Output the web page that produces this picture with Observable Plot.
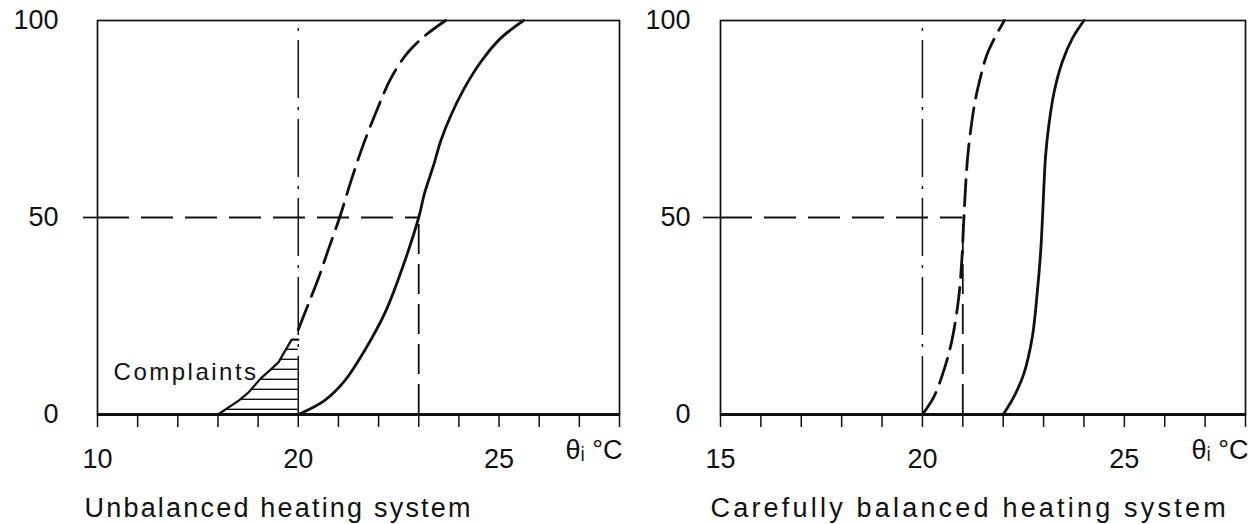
<!DOCTYPE html>
<html><head><meta charset="utf-8">
<script src="https://cdn.jsdelivr.net/npm/d3@7"></script>
<script src="https://cdn.jsdelivr.net/npm/@observablehq/plot@0.6"></script>
<style>
body{margin:0;background:#fff;}
#wrap{display:flex;width:1260px;height:524px;overflow:hidden;}
#wrap svg{display:block;}
</style></head><body><div id="wrap"></div>
<script>
// ---------- data ----------
const yTicks = [0, 50, 100];
// left panel: unbalanced heating system
const leftTicks = [10, 12, 14, 16, 18, 20, 21, 22, 23, 24, 25, 26, 27, 28];
const leftTickLabels = [10, 20, 25];
const leftSolidX = [20, 20.66, 21.16, 21.65, 22.15, 22.48, 23.0, 23.14, 23.38, 23.55, 23.8, 24.13, 24.54, 25.03, 25.61];
const leftSolidY = [0, 3.6, 8.6, 16.2, 25.6, 34, 50, 56, 63.6, 69.5, 75.9, 82.7, 89.4, 95.4, 100];
const leftDashedX = [20, 20.25, 20.5, 20.74, 21.03, 21.32, 21.62, 21.98, 22.3, 22.7, 23.14, 23.67];
const leftDashedY = [21.5, 28, 34.5, 41.6, 50, 59.5, 68.5, 77.8, 85.2, 91.5, 96, 100];
const complaintsX = [16, 17.05, 17.54, 18.12, 18.69, 19.02, 19.35, 19.67, 20];
const complaintsY = [0, 3.6, 5.7, 9.1, 11.7, 13.3, 16.2, 19, 19];
const leftRef = {x: 20, medianX: 23, median: 50};
// right panel: carefully balanced heating system
const rightTicks = [15, 16, 17, 18, 19, 20, 21, 22, 23, 24, 25, 26, 27, 28];
const rightTickLabels = [15, 20, 25];
const rightSolidX = [22, 22.26, 22.51, 22.72, 22.84, 22.93, 22.98, 23.05, 23.13, 23.26, 23.46, 23.71, 24.0];
const rightSolidY = [0, 4.4, 10.3, 19.6, 30.6, 41.6, 51.5, 65.7, 73.4, 81.8, 89.4, 95.4, 100];
const rightDashedX = [20, 20.28, 20.53, 20.73, 20.9, 20.98, 21.02, 21.08, 21.14, 21.3, 21.47, 21.59, 21.8, 22.03];
const rightDashedY = [0, 4.4, 11.2, 18.8, 29.8, 39.9, 48.4, 59.8, 67.4, 79.3, 86.9, 91.1, 95.8, 100];
const rightRef = {x: 20, medianX: 21, median: 50};
const axisLabel = "θᵢ °C";
const titles = ["Unbalanced heating system", "Carefully balanced heating system"];
const complaintsLabel = "Complaints";

const zip = (xs, ys) => xs.map((x, i) => ({x, y: ys[i]}));
const FONT = "'Liberation Sans', Arial, sans-serif";

function panel(o) {
  const marks = [];
  if (o.hatch) {
    marks.push(Plot.areaY(o.hatch, {x: "x", y: "y", fill: "url(#hatch)"}));
    marks.push(Plot.line(o.hatch, {x: "x", y: "y", stroke: "#111", strokeWidth: 2.2}));
    marks.push(Plot.text([complaintsLabel], {x: 10.8, y: 10.7, textAnchor: "start", fontSize: 24}));
  }
  marks.push(
    Plot.frame({stroke: "#111", strokeWidth: 1.7}),
    Plot.ruleX([o.ref.x], {y1: 0, y2: 100, stroke: "#111", strokeWidth: 1.5, strokeDasharray: "58,9,3,9"}),
    Plot.ruleY([o.ref.median], {x1: o.xDomain[0], x2: o.ref.medianX, stroke: "#111", strokeWidth: 1.8, strokeDasharray: "32,12"}),
    Plot.ruleX([o.ref.medianX], {y1: 0, y2: o.ref.median, stroke: "#111", strokeWidth: 1.8, strokeDasharray: "30,10"}),
    Plot.line(o.solid, {x: "x", y: "y", curve: "catmull-rom", stroke: "#111", strokeWidth: 2.8}),
    Plot.line(o.dashed, {x: "x", y: "y", curve: "catmull-rom", stroke: "#111", strokeWidth: 2.8, strokeDasharray: "26,10"}),
    Plot.ruleY([0], {stroke: "#111", strokeWidth: 2.8}),
    Plot.axisX({ticks: o.ticks, tickSize: 13, tickFormat: () => "", label: null, stroke: "#111", strokeWidth: 1.5}),
    Plot.axisX({ticks: o.tickLabels, tickSize: 0, tickPadding: 34, fontSize: 27, label: null}),
    Plot.axisY({ticks: [50], tickSize: o.yTick, tickPadding: o.yPad50, fontSize: 27, strokeWidth: 1.7, label: null}),
    Plot.axisY({ticks: yTicks.filter(d => d !== 50), tickSize: 0, tickPadding: o.yPad, fontSize: 27, label: null}),
    Plot.text([axisLabel], {frameAnchor: "bottom-right", textAnchor: "end", dy: 44, dx: 3, fontSize: 27}),
    Plot.text([o.title], {frameAnchor: "bottom-left", textAnchor: "start", dy: 102, dx: o.titleDx, fontSize: 27})
  );
  const svg = Plot.plot({
    width: 630, height: 524,
    marginLeft: o.ml, marginRight: o.mr, marginTop: 20, marginBottom: 110,
    x: o.xScale,
    y: {domain: [0, 100]},
    style: {fontFamily: FONT, color: "#111", background: "white", overflow: "visible"},
    marks
  });
  const s = d3.select(svg);
  const defs = s.insert("defs", ":first-child");
  const p = defs.append("pattern").attr("id", "hatch").attr("patternUnits", "userSpaceOnUse")
    .attr("width", 10).attr("height", 10);
  p.append("line").attr("x1", 0).attr("x2", 10).attr("y1", 9.5).attr("y2", 9.5)
    .attr("stroke", "#111").attr("stroke-width", 1.8);
  s.selectAll("text").each(function () {
    const t = this.textContent;
    if (t === o.title) this.setAttribute("letter-spacing", o.titleSpacing);
    if (t === complaintsLabel) this.setAttribute("letter-spacing", 2.5);
  });
  return svg;
}

const wrap = document.getElementById("wrap");
wrap.append(panel({
  ml: 97, mr: 11,
  xDomain: [10, 20, 28],
  xScale: {type: "linear", domain: [10, 20, 28], range: [97, 97 + 522 * 5 / 13, 619]},
  ticks: leftTicks, tickLabels: leftTickLabels,
  solid: zip(leftSolidX, leftSolidY), dashed: zip(leftDashedX, leftDashedY),
  hatch: zip(complaintsX, complaintsY),
  ref: leftRef, yTick: 14, yPad50: 25, yPad: 39,
  title: titles[0], titleDx: -13, titleSpacing: 2.2
}));
wrap.append(panel({
  ml: 90, mr: 15,
  xDomain: [15, 28],
  xScale: {type: "linear", domain: [15, 28]},
  ticks: rightTicks, tickLabels: rightTickLabels,
  solid: zip(rightSolidX, rightSolidY), dashed: zip(rightDashedX, rightDashedY),
  hatch: null,
  ref: rightRef, yTick: 17, yPad50: 13, yPad: 30,
  title: titles[1], titleDx: -10, titleSpacing: 3.2
}));
</script></body></html>
